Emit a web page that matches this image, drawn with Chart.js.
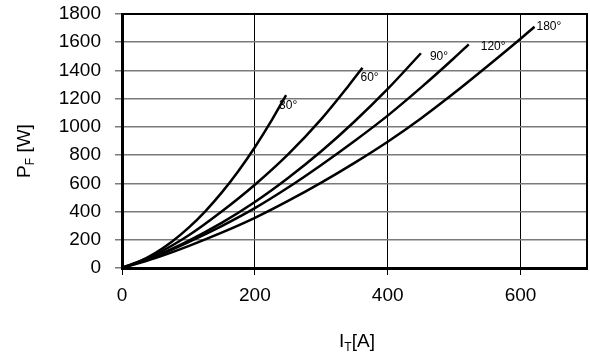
<!DOCTYPE html>
<html>
<head>
<meta charset="utf-8">
<script src="https://cdn.jsdelivr.net/npm/chart.js@4/dist/chart.umd.min.js"></script>
<style>
  body { margin: 0; background: #fff; }
  #wrap { width: 590px; height: 353px; }
</style>
</head>
<body>
<div id="wrap"><canvas id="chart" width="590" height="353"></canvas></div>
<script>
// on-state current I_T [A] and forward power loss P_F [W], per conduction angle
const current30 = [0, 25, 50, 75, 100, 125, 150, 175, 200, 225, 247];
const power30 = [0, 44, 106, 186, 284, 400, 534, 686, 856, 1044, 1225];

const current60 = [0, 50, 100, 150, 200, 250, 300, 340, 362];
const power60 = [0, 95, 230, 400, 590, 805, 1055, 1285, 1419];

const current90 = [0, 50, 100, 150, 200, 250, 300, 350, 400, 450];
const power90 = [0, 85, 193, 320, 468, 638, 827, 1038, 1269, 1522];

const current120 = [0, 50, 100, 150, 200, 250, 300, 350, 400, 450, 500, 522];
const power120 = [0, 80, 183, 297, 424, 570, 730, 900, 1080, 1278, 1488, 1585];

const current180 = [0, 50, 100, 150, 200, 250, 300, 350, 400, 450, 500, 550, 600, 621];
const power180 = [0, 70, 155, 250, 355, 475, 605, 745, 895, 1060, 1240, 1430, 1625, 1710];

const angleLabels = ["30°", "60°", "90°", "120°", "180°"];
const xTicks = [0, 200, 400, 600];
const yTicks = [0, 200, 400, 600, 800, 1000, 1200, 1400, 1600, 1800];

const series = [
  [current30, power30],
  [current60, power60],
  [current90, power90],
  [current120, power120],
  [current180, power180],
];

// label offsets from the end of each curve, in px
const labelOffsets = [[-7, 11], [-2, 10], [9, 3], [12, 2], [2, 0]];

const FONT = "'Liberation Sans', Arial, sans-serif";

const framePlugin = {
  id: "frame",
  afterDatasetsDraw(chart) {
    const { ctx, chartArea: a, scales } = chart;
    ctx.save();
    // top + right border
    ctx.strokeStyle = "#000";
    ctx.lineWidth = 2;
    ctx.beginPath();
    ctx.moveTo(a.left, a.top);
    ctx.lineTo(a.right, a.top);
    ctx.lineTo(a.right, a.bottom);
    ctx.stroke();

    // curve labels
    ctx.fillStyle = "#000";
    ctx.font = "12px " + FONT;
    ctx.textBaseline = "middle";
    ctx.textAlign = "left";
    series.forEach(([xs, ys], i) => {
      const n = xs.length - 1;
      const px = scales.x.getPixelForValue(xs[n]);
      const py = scales.y.getPixelForValue(ys[n]);
      ctx.fillText(angleLabels[i], px + labelOffsets[i][0], py + labelOffsets[i][1]);
    });

    // x title: I_T[A]
    ctx.font = "19px " + FONT;
    ctx.textBaseline = "alphabetic";
    const bigI = "I", subT = "T", restX = "[A]";
    const wI = ctx.measureText(bigI).width;
    const wR = ctx.measureText(restX).width;
    ctx.font = "12px " + FONT;
    const wT = ctx.measureText(subT).width;
    let x0 = 357 - (wI + wT + wR) / 2;
    const by = 347;
    ctx.font = "19px " + FONT;
    ctx.fillText(bigI, x0, by);
    ctx.font = "12px " + FONT;
    ctx.fillText(subT, x0 + wI, by + 4);
    ctx.font = "19px " + FONT;
    ctx.fillText(restX, x0 + wI + wT, by);

    // y title: P_F [W]
    ctx.translate(30, 151);
    ctx.rotate(-Math.PI / 2);
    const bigP = "P", subF = "F", restY = " [W]";
    const wP = ctx.measureText(bigP).width;
    const wRy = ctx.measureText(restY).width;
    ctx.font = "12px " + FONT;
    const wF = ctx.measureText(subF).width;
    x0 = -(wP + wF + wRy) / 2;
    ctx.font = "19px " + FONT;
    ctx.fillText(bigP, x0, 0);
    ctx.font = "12px " + FONT;
    ctx.fillText(subF, x0 + wP, 4);
    ctx.font = "19px " + FONT;
    ctx.fillText(restY, x0 + wP + wF, 0);
    ctx.restore();
  },
};

new Chart(document.getElementById("chart").getContext("2d"), {
  type: "scatter",
  data: {
    datasets: series.map(([xs, ys], i) => ({
      label: angleLabels[i],
      data: xs.map((x, k) => ({ x: x, y: ys[k] })),
      showLine: true,
      borderColor: "#000",
      borderWidth: 2.5,
      pointRadius: 0,
      cubicInterpolationMode: "monotone",
      fill: false,
    })),
  },
  options: {
    responsive: false,
    animation: false,
    layout: { padding: { top: 14, right: 3, left: 0, bottom: 0 } },
    plugins: { legend: { display: false }, tooltip: { enabled: false } },
    scales: {
      x: {
        type: "linear",
        min: 0,
        max: 700,
        afterBuildTicks: (s) => { s.ticks = xTicks.map((v) => ({ value: v })); },
        afterFit: (s) => { s.height = 85; s.paddingLeft = 0; s.paddingRight = 0; },
        ticks: { color: "#000", font: { size: 19, family: FONT }, padding: 9, maxRotation: 0, callback: (v) => String(v) },
        grid: { color: "#000", lineWidth: 1, tickLength: 7, tickColor: "#000" },
        border: { color: "#000", width: 3 },
      },
      y: {
        type: "linear",
        min: 0,
        max: 1800,
        afterBuildTicks: (s) => { s.ticks = yTicks.map((v) => ({ value: v })); },
        afterFit: (s) => { s.width = 122; s.paddingTop = 0; s.paddingBottom = 0; },
        ticks: { color: "#000", font: { size: 19, family: FONT }, padding: 14, callback: (v) => String(v) },
        grid: {
          color: (c) => (c.tick && (c.tick.value === 0 || c.tick.value === 1800) ? "rgba(0,0,0,0)" : "#7a7a7a"),
          lineWidth: 1.5,
          tickLength: 7,
          tickColor: "#7a7a7a",
        },
        border: { color: "#000", width: 3 },
      },
    },
  },
  plugins: [framePlugin],
});
</script>
</body>
</html>
